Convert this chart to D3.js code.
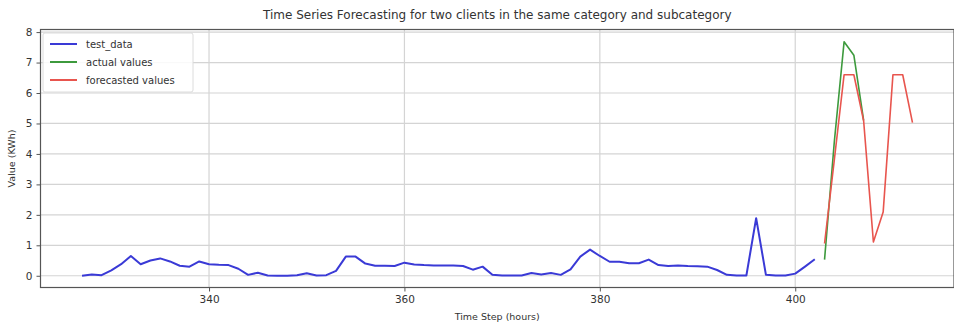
<!DOCTYPE html>
<html>
<head>
<meta charset="utf-8">
<script src="https://cdn.jsdelivr.net/npm/d3@7/dist/d3.min.js"></script>
<style>
  html, body { margin: 0; padding: 0; background: #fff; }
  svg { display: block; font-family: "DejaVu Sans", sans-serif; }
</style>
</head>
<body>
<svg id="chart" width="954" height="325"></svg>
<script>
// Hourly load of the test window (client A)
const testHours = d3.range(327, 403);
const testValues = [
  0.00, 0.04, 0.02, 0.18, 0.38, 0.65, 0.38, 0.50, 0.57, 0.47,
  0.33, 0.30, 0.47, 0.38, 0.36, 0.35, 0.23, 0.03, 0.10, 0.01,
  0.00, 0.00, 0.02, 0.08, 0.01, 0.02, 0.16, 0.63, 0.63, 0.40,
  0.33, 0.33, 0.32, 0.43, 0.37, 0.35, 0.34, 0.34, 0.34, 0.32,
  0.20, 0.30, 0.03, 0.01, 0.01, 0.01, 0.09, 0.04, 0.09, 0.03,
  0.21, 0.63, 0.86, 0.65, 0.46, 0.46, 0.41, 0.41, 0.53, 0.35,
  0.32, 0.34, 0.32, 0.31, 0.30, 0.19, 0.03, 0.01, 0.01, 1.89,
  0.03, 0.01, 0.01, 0.07, 0.30, 0.54
];

// Observed values after the test window
const actualHours = [403, 404, 405, 406, 407];
const actualValues = [0.53, 4.40, 7.68, 7.24, 5.10];

// Model forecast for the same horizon
const forecastHours = [403, 404, 405, 406, 407, 408, 409, 410, 411, 412];
const forecastValues = [1.06, 3.80, 6.60, 6.60, 5.09, 1.11, 2.09, 6.60, 6.60, 5.03];

const xTicks = [340, 360, 380, 400];
const yTicks = [0, 1, 2, 3, 4, 5, 6, 7, 8];

const seriesNames = ["test_data", "actual values", "forecasted values"];
const seriesColors = ["#3a3ad6", "#3d9a3d", "#e8554e"];

const svg = d3.select("#chart");
const plot = { left: 40.5, right: 954, top: 29.5, bottom: 287.5 };

const x = d3.scaleLinear().domain([322.75, 416.25]).range([plot.left, plot.right]);
const y = d3.scaleLinear().domain([-0.385, 8.085]).range([plot.bottom, plot.top]);

// Grid
const grid = svg.append("g").attr("stroke", "#d4d4d4").attr("stroke-width", 1.2);
grid.selectAll("line.gx").data(xTicks).join("line")
  .attr("x1", d => x(d)).attr("x2", d => x(d))
  .attr("y1", plot.top).attr("y2", plot.bottom);
grid.selectAll("line.gy").data(yTicks).join("line")
  .attr("x1", plot.left).attr("x2", plot.right)
  .attr("y1", d => y(d)).attr("y2", d => y(d));

// Axes
const xAxis = svg.append("g")
  .attr("transform", `translate(0,${plot.bottom})`)
  .call(d3.axisBottom(x).tickValues(xTicks).tickSize(4).tickPadding(4).tickFormat(d3.format("d")));
const yAxis = svg.append("g")
  .attr("transform", `translate(${plot.left},0)`)
  .call(d3.axisLeft(y).tickValues(yTicks).tickSize(4).tickPadding(4).tickFormat(d3.format("d")));
[xAxis, yAxis].forEach(a => {
  a.select(".domain").remove();
  a.selectAll(".tick line").attr("stroke", "#555");
  a.selectAll(".tick text").attr("fill", "#333").style("font-size", "10.5px").style("font-family", "DejaVu Sans");
});

// Frame
svg.append("rect")
  .attr("x", plot.left).attr("y", plot.top)
  .attr("width", plot.right - plot.left).attr("height", plot.bottom - plot.top)
  .attr("fill", "none").attr("stroke", "#555").attr("stroke-width", 1.2);

// Lines
const line = d3.line().x(d => x(d[0])).y(d => y(d[1]));
const series = [
  d3.zip(testHours, testValues),
  d3.zip(actualHours, actualValues),
  d3.zip(forecastHours, forecastValues)
];
const widths = [2, 1.6, 1.6];
series.forEach((s, i) => {
  svg.append("path").datum(s)
    .attr("fill", "none")
    .attr("stroke", seriesColors[i])
    .attr("stroke-width", widths[i])
    .attr("stroke-linejoin", "round")
    .attr("d", line);
});

// Legend
const legend = svg.append("g").attr("transform", "translate(43,33)");
legend.append("rect")
  .attr("width", 150).attr("height", 59).attr("rx", 2)
  .attr("fill", "#fff").attr("fill-opacity", 0.85)
  .attr("stroke", "#dcdcdc");
seriesNames.forEach((name, i) => {
  const g = legend.append("g").attr("transform", `translate(0,${11 + i * 18})`);
  g.append("line").attr("x1", 7).attr("x2", 34).attr("y1", 0).attr("y2", 0)
    .attr("stroke", seriesColors[i]).attr("stroke-width", 2);
  g.append("text").attr("x", 43).attr("y", 3.8)
    .attr("fill", "#333").style("font-size", "10px").text(name);
});

// Title and axis labels
svg.append("text")
  .attr("x", (plot.left + plot.right) / 2).attr("y", 19)
  .attr("text-anchor", "middle").attr("fill", "#333")
  .style("font-size", "12px")
  .text("Time Series Forecasting for two clients in the same category and subcategory");
svg.append("text")
  .attr("x", (plot.left + plot.right) / 2).attr("y", 320)
  .attr("text-anchor", "middle").attr("fill", "#333")
  .style("font-size", "9.5px")
  .text("Time Step (hours)");
svg.append("text")
  .attr("transform", `translate(15,${(plot.top + plot.bottom) / 2}) rotate(-90)`)
  .attr("text-anchor", "middle").attr("fill", "#333")
  .style("font-size", "9.5px")
  .text("Value (KWh)");
</script>
</body>
</html>
